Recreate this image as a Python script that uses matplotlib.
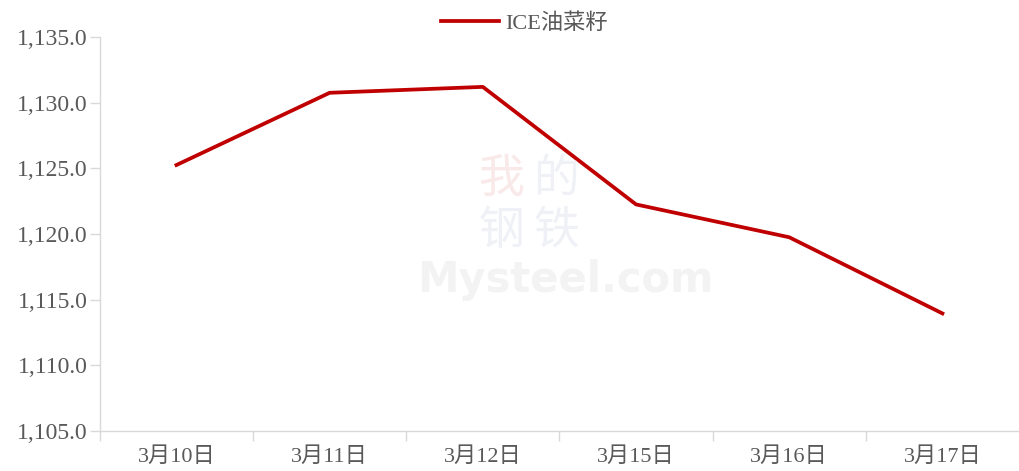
import numpy as np
import matplotlib.pyplot as plt
from matplotlib.ticker import FuncFormatter, FixedLocator

plt.rcParams['font.family'] = ['Liberation Serif', 'Noto Sans CJK SC']

dates = ['3月10日', '3月11日', '3月12日', '3月15日', '3月16日', '3月17日']
rapeseed = [1125.25, 1130.75, 1131.2, 1122.25, 1119.75, 1113.95]
yticks = [1105, 1110, 1115, 1120, 1125, 1130, 1135]

grey = '#d9d9d9'
txt = '#595959'

fig = plt.figure(figsize=(10.19, 4.71), dpi=100)
ax = fig.add_axes([0.098, 0.085, 0.902, 0.8365])

x = np.arange(len(dates))
ax.plot(x, rapeseed, color='#c00000', linewidth=2.7, label='ICE油菜籽', zorder=3)

ax.set_xlim(-0.5, len(dates) - 0.5)
ax.set_ylim(yticks[0], yticks[-1])
ax.set_yticks(yticks)
ax.yaxis.set_major_formatter(FuncFormatter(lambda v, p: '{:,.1f}'.format(v)))
ax.set_xticks(x)
ax.set_xticklabels(dates)
ax.xaxis.set_minor_locator(FixedLocator(np.arange(-0.5, len(dates) - 0.5, 1.0)))
ax.tick_params(axis='x', which='major', length=0, pad=12, labelsize=16, labelcolor=txt)
ax.tick_params(axis='x', which='minor', length=7, color=grey, width=1)
ax.tick_params(axis='y', length=7, color=grey, width=1, labelsize=17, labelcolor=txt, pad=2)

for s in ['top', 'right']:
    ax.spines[s].set_visible(False)
for s in ['left', 'bottom']:
    ax.spines[s].set_color(grey)
    ax.spines[s].set_linewidth(1)

# watermark
for ch, cx, cy, c in [('我', 0.492, 0.62, '#f9e9e9'), ('的', 0.546, 0.62, '#eff1f6'),
                      ('钢', 0.492, 0.51, '#eff1f6'), ('铁', 0.546, 0.51, '#eff1f6')]:
    fig.text(cx, cy, ch, fontsize=33, color=c, ha='center', va='center',
             family=['Noto Sans CJK SC'], zorder=0)
fig.text(0.555, 0.405, 'Mysteel.com', fontsize=30, color='#f3f3f3', ha='center', va='center',
         family=['DejaVu Sans'], weight='bold', zorder=0)

leg = fig.legend(loc='upper center', bbox_to_anchor=(0.515, 1.015), frameon=False,
                 fontsize=16, handlelength=2.6, handletextpad=0.3)
for t in leg.get_texts():
    t.set_color(txt)

fig.savefig('out.png', dpi=100)
